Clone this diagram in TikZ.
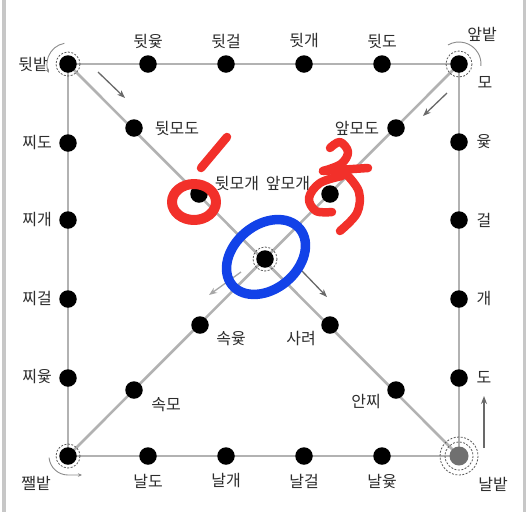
\documentclass[tikz,border=0pt]{standalone}
\usepackage{fontspec}
\newfontfamily\hangul{Noto Sans CJK KR}
\usetikzlibrary{arrows.meta,backgrounds}
\definecolor{boardgray}{RGB}{178,178,178}
\definecolor{arrowgray}{RGB}{105,105,105}
\definecolor{textgray}{RGB}{45,45,45}
\definecolor{homegray}{RGB}{112,112,112}
\definecolor{markred}{RGB}{242,48,42}
\definecolor{markblue}{RGB}{18,66,232}
\tikzset{
	spot/.style={circle,fill=black,inner sep=0pt,minimum size=17.5pt},
	word/.style={font=\hangul\fontsize{16}{16}\selectfont,text=textgray,inner sep=0pt},
	track/.style={draw=boardgray,line width=2.6pt},
	move/.style={-{Stealth[length=8pt,width=6pt]},draw=arrowgray,line width=1.3pt},
	ring/.style={draw=black!65,dash pattern=on 2pt off 1.5pt,line width=0.8pt},
	turn/.style={draw=black!45,line width=0.9pt},
	marker/.style={line width=8.5pt,line cap=round,line join=round},
}
\begin{document}
\begin{tikzpicture}[x=1pt,y=1pt,yscale=-1]
		\useasboundingbox (0,0) rectangle (528,512);
		\node[spot] (dwitbat) at (68,64) {};
		\node[spot] (dwityut) at (148,64) {};
		\node[spot] (dwitgeol) at (226,64) {};
		\node[spot] (dwitgae) at (304,64) {};
		\node[spot] (dwitdo) at (382,64) {};
		\node[spot] (apbat) at (459,64) {};
		\node[spot] (yut) at (459,142) {};
		\node[spot] (geol) at (459,220) {};
		\node[spot] (gae) at (459,299) {};
		\node[spot] (do) at (459,378) {};
		\node[spot,fill=homegray,minimum size=19pt] (nalbat) at (459,456) {};
		\node[spot] (nalyut) at (382,456) {};
		\node[spot] (nalgeol) at (304,456) {};
		\node[spot] (nalgae) at (226,456) {};
		\node[spot] (naldo) at (148,456) {};
		\node[spot] (jjaelbat) at (68,456) {};
		\node[spot] (jjiyut) at (68,378) {};
		\node[spot] (jjigeol) at (68,299) {};
		\node[spot] (jjigae) at (68,220) {};
		\node[spot] (jjido) at (68,143) {};
		\node[spot] (dwitmodo) at (134,128) {};
		\node[spot] (dwitmogae) at (199,194) {};
		\node[spot] (bang) at (265,259) {};
		\node[spot] (saryeo) at (330,325) {};
		\node[spot] (anjji) at (396,390) {};
		\node[spot] (apmodo) at (396,128) {};
		\node[spot] (apmogae) at (330,194) {};
		\node[spot] (sokyut) at (200,325) {};
		\node[spot] (sokmo) at (134,390) {};
		\begin{scope}[on background layer]
			\fill[white] (0,0) rectangle (528,512);
			\draw[draw=black!22,line width=3.5pt] (4,0) -- (4,512);
			\draw[draw=black!22,line width=3pt] (524.5,0) -- (524.5,512);
			\draw[track] (dwitbat.center) -- (apbat.center) -- (nalbat.center) -- (jjaelbat.center) -- cycle;
			\draw[track] (dwitbat.center) -- (nalbat.center);
			\draw[track] (apbat.center) -- (jjaelbat.center);
		\end{scope}
		\draw[ring] (dwitbat.center) circle[radius=12pt];
		\draw[ring] (apbat.center) circle[radius=13pt];
		\draw[ring] (jjaelbat.center) circle[radius=12pt];
		\draw[ring] (nalbat.center) circle[radius=14pt];
		\draw[ring] (nalbat.center) circle[radius=19pt];
		\draw[ring] (bang.center) circle[radius=12pt];
		\draw[turn,-{Stealth[length=4pt,width=3.5pt]}] ([shift={(-100:21pt)}]dwitbat.center) arc[start angle=-100,end angle=-205,radius=21pt];
		\draw[turn] ([shift={(-120:22pt)}]apbat.center) arc[start angle=-120,end angle=5,radius=22pt];
		\draw[turn,-{Stealth[length=4pt,width=3.5pt]}] ([shift={(175:19pt)}]jjaelbat.center) arc[start angle=175,end angle=90,radius=19pt] -- ++(14,0);
		\coordinate (go-a) at (98,72);
		\coordinate (go-a') at (125,98);
		\coordinate (go-b) at (447,93);
		\coordinate (go-b') at (423,116);
		\coordinate (go-c) at (241,272);
		\coordinate (go-c') at (209,295);
		\coordinate (go-d) at (302,271);
		\coordinate (go-d') at (327,297);
		\coordinate (go-e) at (484,448);
		\coordinate (go-e') at (484,396);
		\draw[move] (go-a) -- (go-a');
		\draw[move] (go-b) -- (go-b');
		\draw[move,draw=black!35] (go-c) -- (go-c');
		\draw[move] (go-d) -- (go-d');
		\draw[move,line width=2pt] (go-e) -- (go-e');
		\node[word] (t-dwitbat) at (33,64) {뒷밭};
		\node[word] (t-dwityut) at (148,41) {뒷윷};
		\node[word] (t-dwitgeol) at (226,41) {뒷걸};
		\node[word] (t-dwitgae) at (304,41) {뒷개};
		\node[word] (t-dwitdo) at (382,41) {뒷도};
		\node[word] (t-apbat) at (482,34) {앞밭};
		\node[word] (t-mo) at (485,82) {모};
		\node[word] (t-yut) at (484,142) {윷};
		\node[word] (t-geol) at (484,220) {걸};
		\node[word] (t-gae) at (484,299) {개};
		\node[word] (t-do) at (484,377) {도};
		\node[word] (t-nalbat) at (493,484) {날밭};
		\node[word] (t-nalyut) at (382,481) {날윷};
		\node[word] (t-nalgeol) at (304,481) {날걸};
		\node[word] (t-nalgae) at (226,481) {날개};
		\node[word] (t-naldo) at (148,481) {날도};
		\node[word] (t-jjaelbat) at (36,483) {쨀밭};
		\node[word] (t-jjiyut) at (37,377) {찌윷};
		\node[word] (t-jjigeol) at (37,299) {찌걸};
		\node[word] (t-jjigae) at (37,220) {찌개};
		\node[word] (t-jjido) at (37,143) {찌도};
		\node[word] (t-dwitmodo) at (177,128) {뒷모도};
		\node[word] (t-dwitmogae) at (237,184) {뒷모개};
		\node[word] (t-apmogae) at (288,184) {앞모개};
		\node[word] (t-apmodo) at (357,128) {앞모도};
		\node[word] (t-sokyut) at (231,339) {속윷};
		\node[word] (t-sokmo) at (166,405) {속모};
		\node[word] (t-saryeo) at (301,339) {사려};
		\node[word] (t-anjji) at (366,402) {안찌};
		\draw[marker,markred] (227,137) -- (201,168);
		\draw[marker,markred,line width=10pt] (194,202) ellipse[x radius=22pt,y radius=18pt];
		\draw[marker,markred] plot[smooth,tension=0.6] coordinates {(330,148) (340,142) (348,152) (341,164) (323,171)};
		\draw[marker,markred] (323,171) -- (368,168);
		\draw[marker,markred] plot[smooth,tension=0.6] coordinates {(342,176) (320,183) (309,198) (316,211) (332,212)};
		\draw[marker,markred] plot[smooth,tension=0.6] coordinates {(348,176) (359,192) (357,213) (340,231)};
		\draw[marker,markblue,line width=9.5pt,rotate around={-40:(266,257)}] (266,257) ellipse[x radius=44pt,y radius=32pt];
	\end{tikzpicture}
\end{document}
